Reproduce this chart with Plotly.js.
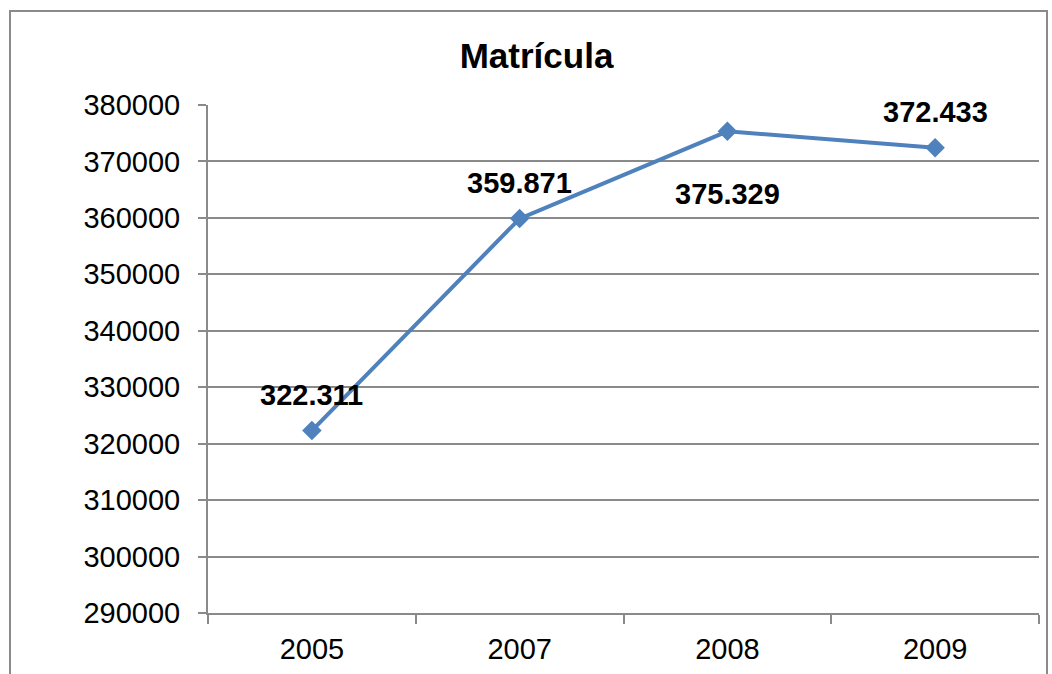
<!DOCTYPE html>
<html>
<head>
<meta charset="utf-8">
<script src="https://cdn.plot.ly/plotly-3.0.1.min.js"></script>
<style>
html,body{margin:0;padding:0;background:#fff;}
#frame{position:absolute;left:9px;top:10px;width:1039px;height:700px;border:2px solid #8a8a8a;box-sizing:border-box;}
#chart{position:absolute;left:0;top:0;width:1052px;height:674px;}
</style>
</head>
<body>
<div id="frame"></div>
<div id="chart"></div>
<script>
const years = ["2005", "2007", "2008", "2009"];
const matricula = [322311, 359871, 375329, 372433];
const labels = ["322.311", "359.871", "375.329", "372.433"];
const labelShift = [36, 36, -63, 36];
const yTicks = [290000, 300000, 310000, 320000, 330000, 340000, 350000, 360000, 370000, 380000];

const font = "Liberation Sans, Arial, sans-serif";

const trace = {
  x: years,
  y: matricula,
  type: "scatter",
  mode: "lines+markers",
  line: {color: "#4F81BD", width: 4},
  marker: {symbol: "diamond", size: 15, color: "#4F81BD"},
  hoverinfo: "none"
};

const annotations = years.map((yr, i) => ({
  x: i, y: matricula[i], xref: "x", yref: "y",
  text: "<b>" + labels[i] + "</b>",
  showarrow: false, yshift: labelShift[i],
  font: {family: font, size: 29, color: "#000"}
}));

const layout = {
  width: 1052, height: 674,
  margin: {l: 208, r: 13, t: 105, b: 61},
  paper_bgcolor: "rgba(0,0,0,0)",
  plot_bgcolor: "rgba(0,0,0,0)",
  showlegend: false,
  title: {text: "<b>Matrícula</b>", x: 0.51, xanchor: "center", y: 0.918, yanchor: "middle",
          font: {family: font, size: 35, color: "#000"}},
  xaxis: {
    type: "category",
    range: [-0.5, 3.5],
    tickson: "boundaries",
    ticks: "outside", ticklen: 9, tickcolor: "#8a8a8a", tickwidth: 2,
    showline: true, linecolor: "#8a8a8a", linewidth: 2,
    showgrid: false, zeroline: false,
    tickangle: 0,
    tickfont: {family: font, size: 29, color: "#000"},
    ticklabelstandoff: 9,
    fixedrange: true
  },
  yaxis: {
    range: [290000, 380000],
    tickvals: yTicks,
    ticktext: yTicks.map(String),
    ticks: "outside", ticklen: 8, tickcolor: "#8a8a8a", tickwidth: 2,
    showline: true, linecolor: "#8a8a8a", linewidth: 2,
    showgrid: true, gridcolor: "#8a8a8a", gridwidth: 2,
    zeroline: false,
    tickfont: {family: font, size: 29, color: "#000"},
    ticklabelstandoff: 12,
    fixedrange: true
  },
  annotations: annotations
};

Plotly.newPlot("chart", [trace], layout, {displayModeBar: false, staticPlot: true});
</script>
</body>
</html>
